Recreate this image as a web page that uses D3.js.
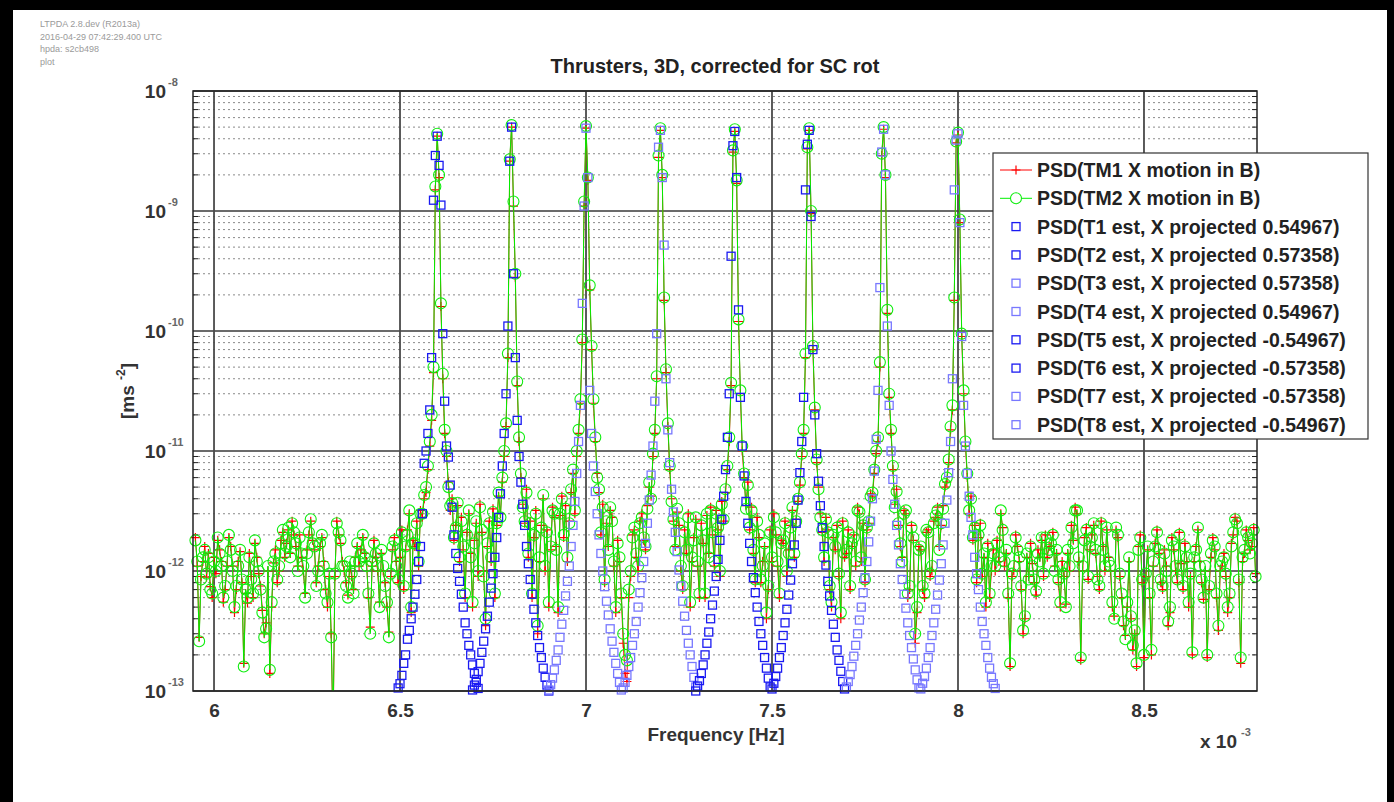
<!DOCTYPE html>
<html>
<head>
<meta charset="utf-8">
<script src="https://cdn.jsdelivr.net/npm/d3@7"></script>
<style>
  html, body { margin: 0; padding: 0; background: #000; }
  svg { display: block; }
</style>
</head>
<body>
<div id="chart"></div>
<script>
/* ---- Data : frequency in mHz, PSD in units of 1e-12 m s^-2 ---- */
var FREQ_START = 5.95;   // first bin of the TM spectra
var FREQ_STEP = 0.005;   // bin spacing of the TM spectra

var TM1 = [
  1.9, 1.1, 0.28, 0.9, 1.2, 1.6, 0.89, 1.4, 0.74, 0.6,
  1.3, 0.95, 1.8, 1.5, 1.2, 0.55, 0.7, 1.1, 1.9, 1.6,
  1.1, 0.45, 0.7, 1.2, 1.45, 0.8, 0.17, 0.65, 0.54, 1.4,
  0.9, 0.6, 1.7, 1.3, 0.95, 0.75, 0.47, 0.3, 0.37, 1.0,
  0.14, 0.5, 1.17, 1.5, 0.8, 1.0, 1.8, 2.1, 1.3, 1.7,
  2.2, 1.4, 2.6, 2.0, 1.6, 1.1, 2.0, 1.3, 1.0, 0.65,
  1.5, 2.0, 2.6, 1.8, 1.5, 0.8, 1.1, 1.6, 1.9, 1.2,
  0.7, 0.5, 0.9, 0.3, 0.04, 0.9, 2.6, 2.0, 1.7, 1.2,
  1.0, 0.8, 0.63, 1.1, 0.9, 0.7, 1.3, 1.6, 1.1, 1.5,
  1.9, 1.4, 1.2, 0.6, 0.34, 1.1, 1.8, 1.3, 1.0, 0.55,
  1.4, 1.0, 0.8, 0.5, 0.31, 0.9, 1.5, 1.9, 1.2, 0.8,
  1.3, 2.2, 0.7, 1.5, 2.2, 3.0, 0.45, 1.8, 1.6, 2.6,
  1.1, 3.2, 2.8, 4.0, 4.5, 7, 11, 18, 45, 1500,
  4200, 1900, 160, 40, 14, 9, 5.5, 3.2, 4.0, 1.8,
  2.4, 3.5, 1.2, 2.8, 1.5, 0.6, 2.1, 3.0, 1.4, 0.5,
  1.8, 2.5, 0.9, 3.6, 2.1, 1.0, 0.35, 1.6, 2.6, 1.2,
  3.3, 0.6, 2.4, 4.2, 3.0, 5.5, 9, 16, 60, 2600,
  5000, 1100, 280, 35, 12, 6, 3.6, 2.5, 4.8, 1.3,
  2.6, 0.6, 1.9, 3.2, 0.3, 1.2, 2.4, 4.0, 1.0, 2.2,
  0.5, 1.5, 3.4, 2.8, 1.6, 0.45, 2.9, 4.2, 1.9, 3.5,
  1.2, 2.6, 4.5, 6.5, 3.0, 9, 14, 25, 80, 1100,
  4900, 1800, 220, 70, 25, 12, 6.5, 4.5, 2.0, 3.6,
  0.8, 2.5, 1.6, 3.2, 2.8, 1.1, 0.45, 1.8, 1.2, 0.6,
  0.25, 0.14, 0.12, 0.6, 0.9, 2.0, 2.2, 1.3, 1.0, 2.6,
  3.0, 1.8, 1.5, 3.5, 5, 4.2, 9, 14, 40, 2800,
  4700, 1900, 180, 45, 16, 7, 4, 2.6, 1.6, 3.1,
  2.4, 1.0, 0.7, 2.2, 1.4, 3.0, 0.5, 1.2, 1.9, 2.7,
  1.1, 0.6, 2.5, 1.7, 0.6, 2.9, 1.4, 3.4, 2.0, 1.1,
  3.2, 2.2, 0.9, 3.8, 2.6, 4.5, 7, 12, 35, 3100,
  4600, 1700, 120, 30, 10, 6, 3.5, 5.5, 2.2, 3.4,
  1.4, 0.8, 2.8, 1.9, 0.8, 1.2, 1.6, 0.4, 0.7, 2.2,
  1.2, 3.0, 2.0, 1.1, 0.6, 1.8, 1.7, 2.6, 0.9, 1.5,
  2.4, 3.2, 1.3, 2.7, 3.8, 5.2, 9, 14, 60, 3300,
  4700, 950, 70, 22, 8, 5, 3.0, 2.1, 1.2, 2.8,
  2.2, 0.7, 0.5, 1.9, 1.5, 2.4, 0.9, 0.4, 2.6, 1.3,
  1.4, 2.2, 0.7, 1.6, 2.0, 1.1, 3.4, 3.0, 1.2, 2.5,
  0.8, 2.2, 2.5, 4.4, 4.2, 6.5, 9.5, 12, 50, 2900,
  4800, 1900, 140, 28, 14, 7, 3.6, 4.8, 2.4, 1.6,
  1.3, 3.2, 3.0, 0.6, 0.7, 2.4, 1.8, 0.25, 0.45, 1.6,
  1.5, 0.7, 0.6, 2.1, 2.2, 0.9, 1.0, 2.6, 2.8, 3.4,
  1.6, 2.4, 3.5, 5.0, 5.5, 8, 15, 22, 180, 3700,
  4300, 800, 90, 30, 11, 6, 3.0, 4.2, 1.8, 2.4,
  0.8, 1.9, 2.5, 0.9, 1.3, 0.5, 1.7, 0.6, 1.0, 1.5,
  1.0, 1.8, 1.2, 3.0, 2.3, 1.1, 1.4, 0.6, 0.16, 0.9,
  1.0, 2.0, 1.6, 1.2, 0.7, 0.3, 0.4, 1.3, 0.9, 1.7,
  1.15, 0.8, 0.63, 1.5, 1.3, 1.8, 0.9, 2.0, 1.3, 1.6,
  1.6, 2.1, 1.1, 1.4, 0.8, 0.5, 1.2, 0.9, 0.53, 1.4,
  1.0, 2.4, 1.8, 3.4, 3.0, 1.2, 0.18, 1.0, 1.9, 2.3,
  0.85, 1.5, 2.0, 2.4, 1.4, 0.9, 0.7, 2.6, 1.6, 1.0,
  2.2, 1.3, 1.0, 0.5, 0.42, 2.2, 1.9, 0.9, 0.6, 0.35,
  0.29, 0.5, 1.2, 0.4, 0.22, 0.3, 0.16, 1.6, 2.0, 0.8,
  0.19, 0.9, 1.5, 0.6, 0.2, 1.1, 1.7, 2.2, 1.4, 0.8,
  0.7, 1.5, 1.1, 0.35, 0.45, 1.9, 1.5, 1.0, 0.8, 2.1,
  1.15, 0.7, 1.7, 1.2, 0.5, 0.9, 0.2, 1.2, 1.6, 2.2,
  1.2, 0.8, 0.58, 1.0, 0.19, 0.7, 1.3, 1.9, 1.5, 0.6,
  0.32, 1.0, 1.1, 1.4, 0.9, 0.45, 0.6, 1.7, 2.0, 2.8,
  2.6, 0.8, 0.17, 1.2, 1.4, 2.2, 1.8, 1.5, 1.6, 2.3,
  0.95
];

var TM2 = [
  1.8, 1.2, 0.26, 0.85, 1.3, 1.5, 0.95, 1.3, 0.7, 0.65,
  1.2, 1.0, 1.9, 1.4, 1.1, 0.6, 0.75, 1.2, 2.0, 1.5,
  1.0, 0.5, 0.75, 1.1, 1.5, 0.85, 0.16, 0.7, 0.6, 1.3,
  0.85, 0.65, 1.8, 1.2, 1.0, 0.7, 0.45, 0.28, 0.33, 1.1,
  0.15, 0.55, 1.2, 1.4, 0.85, 1.1, 1.7, 2.2, 1.4, 1.6,
  2.3, 1.3, 2.5, 2.1, 1.7, 1.0, 1.9, 1.4, 1.1, 0.6,
  1.4, 2.1, 2.7, 1.7, 1.6, 0.75, 1.0, 1.7, 2.0, 1.1,
  0.65, 0.55, 0.95, 0.28, 0.05, 0.95, 2.5, 2.1, 1.8, 1.1,
  1.1, 0.75, 0.6, 1.2, 0.95, 0.65, 1.2, 1.7, 1.2, 1.4,
  2.0, 1.3, 1.1, 0.65, 0.3, 1.2, 1.7, 1.4, 1.1, 0.5,
  1.5, 1.1, 0.75, 0.55, 0.28, 0.95, 1.6, 1.8, 1.1, 0.85,
  1.4, 2.1, 0.75, 1.6, 2.0, 3.2, 0.5, 1.7, 1.7, 2.5,
  1.2, 3.0, 3.0, 4.3, 5.0, 7.5, 12, 20, 50, 1600,
  4400, 2000, 170, 44, 15, 10, 5.0, 3.5, 3.7, 1.9,
  2.3, 3.7, 1.3, 2.6, 1.6, 0.65, 2.0, 3.2, 1.3, 0.55,
  1.7, 2.6, 1.0, 3.4, 2.2, 0.9, 0.4, 1.7, 2.5, 1.3,
  3.1, 0.65, 2.5, 4.5, 2.8, 6.0, 10, 17, 65, 2700,
  5200, 1200, 300, 38, 13, 6.5, 3.4, 2.6, 4.5, 1.4,
  2.5, 0.65, 2.0, 3.0, 0.35, 1.3, 2.3, 4.3, 1.1, 2.1,
  0.55, 1.6, 3.2, 3.0, 1.5, 0.5, 3.0, 4.0, 2.0, 3.3,
  1.3, 2.5, 4.8, 7.0, 3.2, 10, 15, 27, 85, 1200,
  5100, 1900, 240, 75, 27, 13, 6.0, 4.8, 2.1, 3.4,
  0.85, 2.6, 1.5, 3.4, 2.6, 1.2, 0.5, 1.7, 1.3, 0.65,
  0.3, 0.2, 0.18, 0.7, 1.0, 1.9, 2.3, 1.4, 1.1, 2.5,
  2.8, 1.9, 1.6, 3.3, 5.5, 4.0, 9.5, 15, 42, 2900,
  4900, 2000, 190, 48, 17, 7.5, 3.8, 2.7, 1.5, 3.3,
  2.5, 1.1, 0.75, 2.1, 1.5, 2.8, 0.55, 1.3, 1.8, 2.8,
  1.2, 0.65, 2.4, 1.8, 0.65, 3.0, 1.3, 3.2, 2.1, 1.2,
  3.0, 2.3, 1.0, 3.6, 2.7, 4.8, 7.5, 13, 37, 3200,
  4800, 1800, 125, 32, 11, 6.5, 3.3, 5.2, 2.3, 3.2,
  1.5, 0.85, 2.6, 2.0, 0.85, 1.1, 1.7, 0.45, 0.75, 2.1,
  1.3, 2.8, 2.1, 1.2, 0.65, 1.7, 1.8, 2.5, 1.0, 1.4,
  2.3, 3.4, 1.4, 2.6, 4.0, 5.5, 9.5, 15, 65, 3400,
  4900, 1000, 75, 23, 8.5, 4.8, 2.8, 2.2, 1.3, 2.7,
  2.1, 0.75, 0.55, 2.0, 1.6, 2.3, 0.95, 0.45, 2.5, 1.4,
  1.5, 2.1, 0.75, 1.7, 1.9, 1.2, 3.2, 3.1, 1.3, 2.4,
  0.85, 2.3, 2.6, 4.2, 4.5, 7.0, 10, 13, 55, 3000,
  5000, 2000, 150, 30, 15, 7.5, 3.4, 4.6, 2.5, 1.7,
  1.2, 3.0, 3.2, 0.65, 0.75, 2.3, 1.9, 0.3, 0.5, 1.5,
  1.6, 0.75, 0.65, 2.2, 2.1, 0.95, 1.1, 2.5, 2.9, 3.2,
  1.5, 2.5, 3.3, 5.3, 6.0, 8.5, 16, 24, 190, 3800,
  4500, 850, 95, 32, 12, 6.5, 3.2, 4.0, 1.9, 2.3,
  0.85, 2.0, 2.4, 0.95, 1.4, 0.55, 1.6, 0.65, 1.1, 1.4,
  1.1, 1.7, 1.3, 3.2, 2.2, 1.2, 1.5, 0.65, 0.17, 0.95,
  1.1, 1.9, 1.5, 1.3, 0.75, 0.32, 0.42, 1.4, 0.85, 1.6,
  1.1, 0.85, 0.68, 1.4, 1.2, 1.9, 0.95, 1.9, 1.4, 1.5,
  1.7, 2.0, 1.0, 1.5, 0.85, 0.55, 1.1, 0.95, 0.5, 1.5,
  1.1, 2.3, 1.7, 3.2, 3.2, 1.3, 0.19, 1.1, 1.8, 2.2,
  0.9, 1.6, 1.9, 2.5, 1.5, 0.85, 0.75, 2.5, 1.5, 1.1,
  2.3, 1.2, 1.1, 0.55, 0.4, 2.3, 2.0, 0.95, 0.65, 0.38,
  0.27, 0.55, 1.3, 0.42, 0.24, 0.32, 0.17, 1.5, 1.9, 0.85,
  0.2, 0.95, 1.6, 0.65, 0.22, 1.2, 1.6, 2.1, 1.5, 0.85,
  0.75, 1.4, 1.0, 0.38, 0.5, 1.8, 1.6, 1.1, 0.85, 2.0,
  1.1, 0.75, 1.6, 1.3, 0.55, 0.95, 0.21, 1.3, 1.5, 2.3,
  1.1, 0.85, 0.6, 1.1, 0.2, 0.75, 1.4, 1.8, 1.6, 0.65,
  0.35, 1.1, 1.2, 1.3, 0.95, 0.5, 0.65, 1.6, 2.1, 2.7,
  2.5, 0.85, 0.19, 1.3, 1.5, 2.1, 1.9, 1.4, 1.7, 2.2,
  0.9
];

/* thruster estimates: one injection line each, sampled around it */
var T_PEAKS = [6.6, 6.8, 7.0, 7.2, 7.4, 7.6, 7.8, 8.0];
var T_STEP = 0.005;
var T_HALF = 22;   // samples on each side of the line

var T1 = [0.098, 0.106, 0.115, 0.135, 0.17, 0.2, 0.27, 0.32, 0.4, 0.5, 0.64, 0.85, 1.2, 1.6, 3.0, 7.9, 10, 14, 22, 60, 1230, 2900,
  4200,
  2400, 1120, 95, 26, 11, 8.9, 5.2, 3.4, 2.0, 1.4, 1.05, 0.82, 0.64, 0.5, 0.37, 0.3, 0.24, 0.2, 0.165, 0.14, 0.118, 0.105];
var T2 = [0.095, 0.102, 0.112, 0.125, 0.145, 0.17, 0.21, 0.26, 0.33, 0.42, 0.55, 0.72, 0.95, 1.3, 1.9, 2.8, 4.4, 7.5, 14, 30, 110, 2600,
  5000,
  300, 60, 18, 9, 5.5, 3.6, 2.4, 1.6, 1.15, 0.85, 0.64, 0.48, 0.37, 0.29, 0.23, 0.19, 0.155, 0.13, 0.112, 0.1, 0.092, 0.086];
var T3 = [0.088, 0.094, 0.102, 0.113, 0.128, 0.15, 0.18, 0.22, 0.28, 0.36, 0.47, 0.62, 0.82, 1.1, 1.6, 2.4, 3.8, 6.5, 12, 24, 170, 1100,
  4900,
  1900, 32, 14, 7.5, 4.6, 3.0, 2.0, 1.4, 1.0, 0.74, 0.56, 0.43, 0.33, 0.26, 0.21, 0.17, 0.14, 0.118, 0.102, 0.092, 0.085, 0.08];
var T4 = [0.09, 0.097, 0.106, 0.118, 0.135, 0.16, 0.19, 0.24, 0.3, 0.38, 0.5, 0.66, 0.88, 1.2, 1.7, 2.5, 3.9, 6.3, 11, 26, 95, 3400,
  4700,
  1900, 520, 40, 15, 8, 4.8, 3.1, 2.1, 1.45, 1.02, 0.75, 0.56, 0.42, 0.32, 0.25, 0.2, 0.16, 0.13, 0.108, 0.096, 0.088, 0.082];
var T5 = [0.092, 0.1, 0.11, 0.122, 0.14, 0.165, 0.2, 0.25, 0.31, 0.4, 0.52, 0.68, 0.9, 1.25, 1.8, 2.7, 4.2, 7, 13, 30, 420, 3500,
  4600,
  1900, 150, 28, 11, 6.2, 3.8, 2.5, 1.7, 1.2, 0.88, 0.66, 0.5, 0.38, 0.3, 0.24, 0.19, 0.155, 0.128, 0.108, 0.094, 0.086, 0.08];
var T6 = [0.088, 0.095, 0.104, 0.116, 0.132, 0.155, 0.19, 0.23, 0.29, 0.37, 0.48, 0.63, 0.84, 1.15, 1.65, 2.5, 3.9, 6.6, 12, 28, 1500, 3600,
  4700,
  900, 70, 20, 9.5, 5.6, 3.5, 2.3, 1.6, 1.12, 0.82, 0.62, 0.47, 0.36, 0.28, 0.22, 0.18, 0.146, 0.12, 0.104, 0.093, 0.085, 0.079];
var T7 = [0.09, 0.098, 0.108, 0.12, 0.137, 0.16, 0.195, 0.24, 0.3, 0.39, 0.5, 0.66, 0.88, 1.2, 1.75, 2.6, 4.0, 6.8, 12.5, 32, 230, 3100,
  4800,
  2000, 110, 24, 10, 5.8, 3.6, 2.4, 1.65, 1.15, 0.85, 0.64, 0.49, 0.37, 0.29, 0.23, 0.185, 0.15, 0.124, 0.106, 0.094, 0.086, 0.08];
var T8 = [0.088, 0.095, 0.104, 0.116, 0.132, 0.155, 0.19, 0.23, 0.29, 0.37, 0.48, 0.63, 0.84, 1.15, 1.65, 2.5, 3.9, 6.6, 12, 40, 1500, 3900,
  4400,
  800, 90, 24, 11, 6.5, 4.2, 2.8, 2.0, 1.3, 0.95, 0.7, 0.5, 0.38, 0.3, 0.24, 0.19, 0.155, 0.13, 0.115, 0.105, 0.097, 0.09];

var LEGEND_LABELS = [
  "PSD(TM1 X motion in B)",
  "PSD(TM2 X motion in B)",
  "PSD(T1 est, X projected 0.54967)",
  "PSD(T2 est, X projected 0.57358)",
  "PSD(T3 est, X projected 0.57358)",
  "PSD(T4 est, X projected 0.54967)",
  "PSD(T5 est, X projected -0.54967)",
  "PSD(T6 est, X projected -0.57358)",
  "PSD(T7 est, X projected -0.57358)",
  "PSD(T8 est, X projected -0.54967)"
];

var X_TICKS = [6, 6.5, 7, 7.5, 8, 8.5];
var Y_EXPONENTS = [-8, -9, -10, -11, -12, -13];
var INFO_LINES = ["LTPDA 2.8.dev (R2013a)", "2016-04-29 07:42:29.400 UTC", "hpda: s2cb498", "plot"];

var PICO = 1e-12;

/* ---- Layout ---- */
var W = 1394, H = 802;
var PL = 193, PR = 1257, PT = 91, PB = 691;
var FONT = "'Liberation Sans', Arial, sans-serif";
var T_COLORS = ["#1a1af2", "#1a1af2", "#7878ff", "#7878ff", "#1a1af2", "#1a1af2", "#7878ff", "#7878ff"];

var svg = d3.select("#chart").append("svg")
  .attr("width", W).attr("height", H)
  .style("font-family", FONT);

svg.append("rect").attr("width", W).attr("height", H).attr("fill", "#000");
svg.append("rect").attr("x", 13).attr("y", 10).attr("width", W - 13 - 7).attr("height", H - 10).attr("fill", "#fff");

var x = d3.scaleLinear().domain([5.9435, 8.8038]).range([PL, PR]);
var y = d3.scaleLog().domain([1e-13, 1e-8]).range([PB, PT]);

/* ---- Info text (top left) ---- */
INFO_LINES.forEach(function (s, i) {
  svg.append("text")
    .attr("x", 40).attr("y", 27 + i * 12.5)
    .attr("fill", "#9a9a9a").attr("font-size", 9)
    .text(s);
});

/* ---- Grid ---- */
var grid = svg.append("g");
var minor = [];
Y_EXPONENTS.forEach(function (e) {
  if (e === -8) return;
  for (var m = 2; m <= 9; m++) minor.push(m * Math.pow(10, e));
});
minor.forEach(function (v) {
  grid.append("line")
    .attr("x1", PL).attr("x2", PR).attr("y1", y(v)).attr("y2", y(v))
    .attr("stroke", "#8a8a8a").attr("stroke-width", 1)
    .attr("stroke-dasharray", "2,3");
  /* inward minor ticks */
  grid.append("line").attr("x1", PL).attr("x2", PL + 5).attr("y1", y(v)).attr("y2", y(v))
    .attr("stroke", "#222").attr("stroke-width", 1);
  grid.append("line").attr("x1", PR - 5).attr("x2", PR).attr("y1", y(v)).attr("y2", y(v))
    .attr("stroke", "#222").attr("stroke-width", 1);
});
Y_EXPONENTS.forEach(function (e) {
  var yy = y(Math.pow(10, e));
  grid.append("line")
    .attr("x1", PL).attr("x2", PR).attr("y1", yy).attr("y2", yy)
    .attr("stroke", "#3a3a3a").attr("stroke-width", 1.6);
});
X_TICKS.forEach(function (t) {
  grid.append("line")
    .attr("x1", x(t)).attr("x2", x(t)).attr("y1", PT).attr("y2", PB)
    .attr("stroke", "#4a4a4a").attr("stroke-width", 1.8);
});

/* ---- Series ---- */
var clip = svg.append("clipPath").attr("id", "plotclip");
clip.append("rect").attr("x", PL).attr("y", PT).attr("width", PR - PL).attr("height", PB - PT);

function tmPoints(arr) {
  return arr.map(function (v, i) {
    return { f: FREQ_START + i * FREQ_STEP, v: v * PICO };
  });
}
function inRange(d) { return d.v >= 0.999e-13 && d.v <= 1.001e-8; }

var line = d3.line().x(function (d) { return x(d.f); }).y(function (d) { return y(d.v); });
var plot = svg.append("g");

/* TM1 : red line with + markers */
var p1 = tmPoints(TM1);
plot.append("path").datum(p1).attr("d", line)
  .attr("fill", "none").attr("stroke", "#ff0000").attr("stroke-width", 1)
  .attr("clip-path", "url(#plotclip)");
plot.selectAll(".plus").data(p1.filter(inRange)).enter().append("path")
  .attr("d", "M-4.5,0H4.5M0,-4.5V4.5")
  .attr("transform", function (d) { return "translate(" + x(d.f) + "," + y(d.v) + ")"; })
  .attr("stroke", "#ff0000").attr("stroke-width", 1.2).attr("fill", "none");

/* TM2 : green line with o markers */
var p2 = tmPoints(TM2);
plot.append("path").datum(p2).attr("d", line)
  .attr("fill", "none").attr("stroke", "#00f000").attr("stroke-width", 1)
  .attr("clip-path", "url(#plotclip)");
plot.selectAll(".circ").data(p2.filter(inRange)).enter().append("circle")
  .attr("cx", function (d) { return x(d.f); })
  .attr("cy", function (d) { return y(d.v); })
  .attr("r", 5.5)
  .attr("stroke", "#10ee10").attr("stroke-width", 1.1).attr("fill", "none");

/* T1..T8 : square markers only */
[T1, T2, T3, T4, T5, T6, T7, T8].forEach(function (arr, j) {
  var pts = arr.map(function (v, k) {
    return { f: T_PEAKS[j] + (k - T_HALF) * T_STEP, v: v * PICO };
  }).filter(inRange);
  plot.selectAll(".sq" + j).data(pts).enter().append("rect")
    .attr("x", function (d) { return x(d.f) - 4; })
    .attr("y", function (d) { return y(d.v) - 4; })
    .attr("width", 8).attr("height", 8)
    .attr("fill", "none").attr("stroke", T_COLORS[j]).attr("stroke-width", 1.3);
});

/* ---- Axes box + ticks ---- */
svg.append("rect")
  .attr("x", PL).attr("y", PT).attr("width", PR - PL).attr("height", PB - PT)
  .attr("fill", "none").attr("stroke", "#222").attr("stroke-width", 1.5);

var xAxis = d3.axisBottom(x).tickValues(X_TICKS).tickSize(0).tickPadding(10)
  .tickFormat(function (d) { return d3.format("")(d); });
var gx = svg.append("g").attr("transform", "translate(0," + PB + ")").call(xAxis);
gx.select(".domain").remove();
gx.selectAll("text")
  .attr("font-family", FONT).attr("font-size", 19).attr("font-weight", "bold")
  .attr("fill", "#333").attr("dy", "0.85em");

/* y tick labels as 10^n */
Y_EXPONENTS.forEach(function (e) {
  var yy = y(Math.pow(10, e));
  svg.append("text")
    .attr("x", 166).attr("y", yy + 7)
    .attr("text-anchor", "end")
    .attr("font-size", 19).attr("font-weight", "bold").attr("fill", "#333")
    .text("10");
  svg.append("text")
    .attr("x", 168).attr("y", yy - 5)
    .attr("font-size", 11).attr("font-weight", "bold").attr("fill", "#666")
    .text(e);
});

/* ---- Labels ---- */
svg.append("text")
  .attr("x", 715).attr("y", 73).attr("text-anchor", "middle")
  .attr("font-size", 20).attr("font-weight", "bold").attr("fill", "#222")
  .text("Thrusters, 3D, corrected for SC rot");

svg.append("text")
  .attr("x", 716).attr("y", 741).attr("text-anchor", "middle")
  .attr("font-size", 19).attr("font-weight", "bold").attr("fill", "#333")
  .text("Frequency [Hz]");

var xm = svg.append("text").attr("x", 1200).attr("y", 748)
  .attr("font-size", 19).attr("font-weight", "bold").attr("fill", "#333");
xm.append("tspan").text("x 10");
xm.append("tspan").attr("dx", 4).attr("dy", -12).attr("font-size", 11).attr("fill", "#666").text("-3");

var yl = svg.append("text")
  .attr("transform", "translate(134,391) rotate(-90)")
  .attr("text-anchor", "middle")
  .attr("font-size", 19).attr("font-weight", "bold").attr("fill", "#333");
yl.append("tspan").text("[ms ");
yl.append("tspan").attr("dy", -9).attr("font-size", 12).text("-2");
yl.append("tspan").attr("dy", 9).text("]");

/* ---- Legend ---- */
var lg = svg.append("g");
lg.append("rect")
  .attr("x", 993).attr("y", 153).attr("width", 375).attr("height", 286)
  .attr("fill", "#fff").attr("stroke", "#333").attr("stroke-width", 1.2);

LEGEND_LABELS.forEach(function (label, i) {
  var ly = 170 + i * 28.3;
  if (i === 0) {
    lg.append("line").attr("x1", 1000).attr("x2", 1032).attr("y1", ly).attr("y2", ly)
      .attr("stroke", "#ff0000").attr("stroke-width", 1);
    lg.append("path").attr("d", "M-4.5,0H4.5M0,-4.5V4.5")
      .attr("transform", "translate(1016," + ly + ")")
      .attr("stroke", "#ff0000").attr("stroke-width", 1.2);
  } else if (i === 1) {
    lg.append("line").attr("x1", 1000).attr("x2", 1032).attr("y1", ly).attr("y2", ly)
      .attr("stroke", "#00f000").attr("stroke-width", 1);
    lg.append("circle").attr("cx", 1016).attr("cy", ly).attr("r", 5.5)
      .attr("fill", "#fff").attr("stroke", "#10ee10").attr("stroke-width", 1.1);
  } else {
    lg.append("rect").attr("x", 1012).attr("y", ly - 4).attr("width", 8).attr("height", 8)
      .attr("fill", "none").attr("stroke", T_COLORS[i - 2]).attr("stroke-width", 1.3);
  }
  lg.append("text")
    .attr("x", 1037).attr("y", ly + 7)
    .attr("font-size", 19.5).attr("font-weight", "bold").attr("fill", "#222")
    .text(label);
});
</script>
</body>
</html>
